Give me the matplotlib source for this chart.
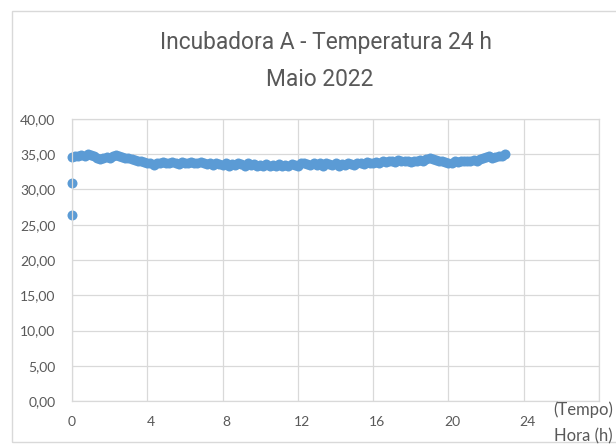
import numpy as np
import matplotlib
matplotlib.use("Agg")
import matplotlib.pyplot as plt
from matplotlib.patches import Rectangle
import matplotlib.transforms as mtransforms

plt.rcParams['font.family'] = ['Lato', 'DejaVu Sans']
title_family = ['Roboto', 'Lato']

title = "Incubadora A - Temperatura 24 h\nMaio 2022"
x_title_1 = "(Tempo)"
x_title_2 = "Hora (h)"

# first readings at start (hour 0)
start_hours = [0.0, 0.0]
start_temps = [26.4, 30.9]

# readings every 10 minutes from 0 h to 23 h
interval_min = 10
temps = [
    34.6, 34.8, 34.7, 34.9, 34.8, 35.0,
    34.9, 34.7, 34.5, 34.3, 34.4, 34.6,
    34.5, 34.8, 34.9, 34.7, 34.6, 34.4,
    34.5, 34.3, 34.2, 34.0, 34.1, 33.9,
    33.8, 33.7, 33.5, 33.8, 33.7, 33.9,
    33.8, 33.7, 33.9, 33.8, 33.6, 33.9,
    33.8, 33.7, 33.9, 33.8, 33.7, 33.9,
    33.8, 33.6, 33.7, 33.5, 33.7, 33.6,
    33.5, 33.7, 33.4, 33.6, 33.5, 33.7,
    33.6, 33.4, 33.7, 33.5, 33.6, 33.4,
    33.5, 33.3, 33.6, 33.4, 33.5, 33.3,
    33.6, 33.4, 33.5, 33.3, 33.6, 33.5,
    33.4, 33.7, 33.8, 33.6, 33.5, 33.7,
    33.5, 33.7, 33.4, 33.8, 33.6, 33.5,
    33.7, 33.4, 33.6, 33.5, 33.7, 33.6,
    33.5, 33.7, 33.8, 33.6, 33.9, 33.7,
    33.8, 33.9, 33.7, 34.0, 33.9, 34.0,
    34.1, 33.9, 34.2, 34.0, 34.1, 34.0,
    33.9, 34.1, 34.0, 34.2, 34.1, 34.3,
    34.5, 34.3, 34.2, 34.1, 34.0, 33.9,
    33.7, 33.8, 34.0, 33.9, 34.1, 34.0,
    34.0, 34.1, 34.2, 34.0, 34.3, 34.4,
    34.6, 34.7, 34.5, 34.6, 34.8, 34.7,
    35.0,
]
hours = np.arange(len(temps)) * interval_min / 60.0

x_ticks = [0, 4, 8, 12, 16, 20, 24, 28]
x_tick_labels = ["0", "4", "8", "12", "16", "20", "24", ""]
y_ticks = [0, 5, 10, 15, 20, 25, 30, 35, 40]
y_tick_labels = ["0,00", "5,00", "10,00", "15,00", "20,00", "25,00", "30,00", "35,00", "40,00"]

W, H = 616, 447
fig = plt.figure(figsize=(W / 100, H / 100), dpi=100)
fig.patch.set_facecolor("white")

# chart border
fig.patches.append(Rectangle((12 / W, 1 - 442 / H), 700 / W, (442 - 11) / H,
                             transform=fig.transFigure, fill=False,
                             edgecolor="#D9D9D9", linewidth=1.0))

ax = fig.add_axes([72 / W, 1 - 401 / H, (599 - 72) / W, (401 - 119) / H])
ax.set_xlim(0, 28)
ax.set_ylim(0, 40)
ax.set_xticks(x_ticks)
ax.set_xticklabels(x_tick_labels)
ax.set_yticks(y_ticks)
ax.set_yticklabels(y_tick_labels)
ax.grid(True, color="#D9D9D9", linewidth=0.9)
ax.set_axisbelow(True)
for s in ax.spines.values():
    s.set_color("#D9D9D9")
    s.set_linewidth(0.9)
ax.tick_params(length=0, colors="#595959", labelsize=10, pad=11)
ax.tick_params(axis="y", pad=12)
offset = mtransforms.ScaledTranslation(4 / 100, 0, fig.dpi_scale_trans)
for lbl in ax.get_xticklabels()[1:]:
    lbl.set_transform(lbl.get_transform() + offset)

color = "#5B9BD5"
ax.plot(hours, temps, linestyle="none", marker="o", markersize=7.2,
        color=color, markeredgewidth=0, clip_on=False)
ax.plot(start_hours, start_temps, linestyle="none", marker="o", markersize=7.2,
        color=color, markeredgewidth=0, clip_on=False)

fig.text(326 / W, 1 - 43 / H, title.split("\n")[0], family=title_family,
         ha="center", va="center", fontsize=16.4, color="#595959")
fig.text(320 / W, 1 - 80 / H, title.split("\n")[1], family=title_family,
         ha="center", va="center", fontsize=16.4, color="#595959")

fig.text(613 / W, 1 - 410 / H, x_title_1, ha="right", va="center",
         fontsize=12, color="#595959")
fig.text(613 / W, 1 - 436 / H, x_title_2, ha="right", va="center",
         fontsize=12, color="#595959")

fig.savefig("out.png", dpi=100)
